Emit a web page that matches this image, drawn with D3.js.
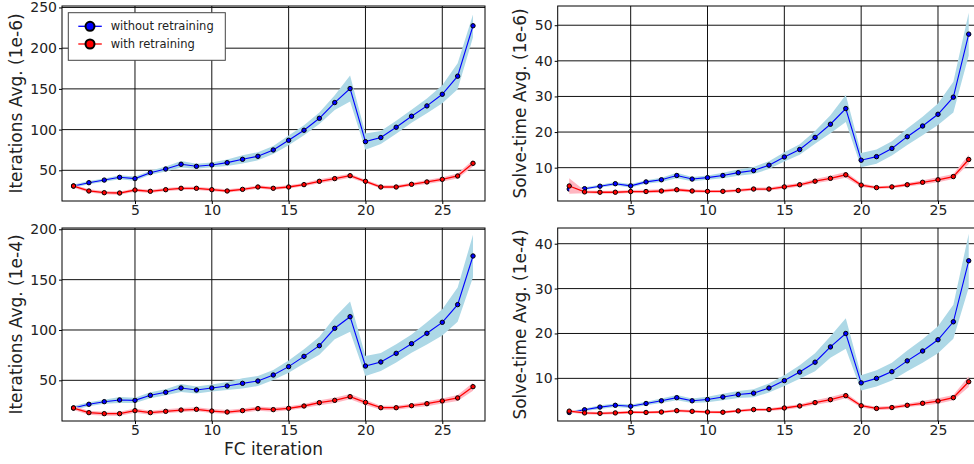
<!DOCTYPE html>
<html>
<head>
<meta charset="utf-8">
<script src="https://cdn.jsdelivr.net/npm/d3@7"></script>
<style>
  body { margin: 0; background: #fff; }
  svg { display: block; font-family: "DejaVu Sans", sans-serif; }
</style>
</head>
<body>
<svg id="chart" width="974" height="464"></svg>
<script>
// FC iterations 1..27
const fcIter = d3.range(1, 28);
const xTicks = [5, 10, 15, 20, 25];

// Iterations avg (1e-6)
const itersE6NoRetrain = [30.7, 34.8, 38, 41.4, 39.8, 47.1, 51.6, 57.4, 54.9, 56.6, 59.4, 63.5, 67.2, 75, 86.9, 99.2, 113.9, 133.2, 150.4, 85.2, 90.2, 102.9, 116.4, 129.1, 143.4, 165.6, 227.5];
const itersE6NoRetrainStd = [2, 2, 2, 2.5, 2.5, 2.5, 3, 4, 3, 3, 4, 5, 5, 5, 6, 6, 7, 9, 16, 10, 8, 8, 8, 9, 11, 16, 14];
const itersE6Retrain = [30.7, 24.6, 22.5, 22.1, 25.8, 24.2, 26.2, 27.9, 27.9, 26.2, 24.6, 26.6, 29.5, 27.9, 29.5, 32.4, 36.5, 39.8, 43.4, 36.5, 29.5, 29.5, 32.8, 35.7, 38.9, 43, 58.6];
const itersE6RetrainStd = [2, 2, 2, 2, 2, 2, 2, 2, 2, 2, 2, 2, 2, 2, 2, 2, 2.5, 2.5, 2.5, 2, 2, 2, 2, 2.5, 2.5, 3, 4];

// Solve-time avg (1e-6)
const timeE6NoRetrain = [4.0, 4.1, 4.8, 5.5, 4.9, 6.0, 6.6, 7.8, 6.8, 7.2, 7.8, 8.6, 9.2, 10.7, 13.0, 15.1, 18.5, 22.2, 26.6, 12.1, 13.1, 15.4, 18.7, 21.7, 25.0, 29.8, 47.5];
const timeE6NoRetrainStd = [0.4, 0.4, 0.4, 0.5, 0.5, 0.5, 0.6, 0.8, 0.6, 0.6, 0.8, 0.9, 1, 1.1, 1.3, 1.5, 1.8, 2.5, 3.8, 2, 2, 2, 2.3, 2.6, 3, 4.3, 6];
const timeE6Retrain = [4.85, 3.2, 3.1, 3.1, 3.3, 3.3, 3.45, 3.8, 3.45, 3.35, 3.35, 3.6, 4.0, 4.0, 4.6, 5.2, 6.2, 7.0, 8.0, 5.1, 4.4, 4.6, 5.2, 5.9, 6.6, 7.5, 12.3];
const timeE6RetrainStd = [2.2, 0.4, 0.4, 0.4, 0.4, 0.5, 0.5, 0.5, 0.4, 0.4, 0.4, 0.4, 0.4, 0.4, 0.5, 0.5, 0.6, 0.7, 0.8, 0.5, 0.4, 0.4, 0.5, 0.6, 0.7, 0.7, 1.3];

// Iterations avg (1e-4)
const itersE4NoRetrain = [22.5, 26.2, 28.8, 30.5, 30.1, 35.1, 38.1, 42.4, 40.4, 42.4, 44.4, 47.0, 49.3, 55.3, 63.6, 73.8, 84.4, 101.7, 113.2, 64.2, 68.2, 76.8, 86.4, 96.7, 107.6, 125.2, 173.5];
const itersE4NoRetrainStd = [2, 2, 2, 3, 2.5, 3, 3, 4, 3.5, 3.5, 4, 5, 5, 5, 6, 7, 9, 11, 15, 10, 9, 9, 9, 11, 13, 17, 21];
const itersE4Retrain = [22.5, 17.9, 16.9, 16.9, 19.9, 17.9, 19.2, 20.5, 21.2, 19.5, 18.5, 19.9, 21.9, 20.9, 22.2, 24.5, 27.8, 30.1, 33.8, 28.1, 22.8, 22.8, 24.8, 26.8, 29.5, 32.5, 43.7];
const itersE4RetrainStd = [2, 2, 2, 2, 2, 2, 2, 2, 2, 2, 2, 2, 2, 2, 2, 2, 2.5, 2.5, 2.5, 2.5, 2, 2, 2, 2.5, 2.5, 3, 4];

// Solve-time avg (1e-4)
const timeE4NoRetrain = [2.4, 3.0, 3.6, 4.0, 3.8, 4.4, 5.0, 5.7, 5.0, 5.3, 5.85, 6.4, 6.7, 7.85, 9.5, 11.4, 13.6, 17.0, 20.0, 9.0, 10.0, 11.5, 13.9, 16.1, 18.6, 22.6, 36.2];
const timeE4NoRetrainStd = [0.3, 0.3, 0.4, 0.4, 0.4, 0.4, 0.5, 0.6, 0.5, 0.6, 0.7, 0.8, 0.9, 1, 1.2, 1.5, 2, 2.4, 3.4, 1.7, 1.8, 2, 2.3, 2.6, 3, 3.8, 6];
const timeE4Retrain = [2.7, 2.3, 2.2, 2.3, 2.45, 2.4, 2.5, 2.8, 2.65, 2.5, 2.45, 2.75, 3.05, 3.05, 3.4, 3.85, 4.6, 5.25, 6.15, 3.9, 3.3, 3.5, 4.0, 4.45, 4.95, 5.7, 9.25];
const timeE4RetrainStd = [0.3, 0.3, 0.3, 0.3, 0.3, 0.3, 0.3, 0.3, 0.3, 0.3, 0.3, 0.3, 0.3, 0.3, 0.4, 0.4, 0.5, 0.6, 0.6, 0.4, 0.4, 0.4, 0.4, 0.5, 0.6, 0.6, 1.2];

const seriesNames = ["without retraining", "with retraining"];

const panels = [
  { left: 62, top: 6, h: 195, yDomain: [12.3, 251.8], yTicks: [50, 100, 150, 200, 250],
    label: "Iterations Avg. (1e-6)", a: itersE6NoRetrain, aStd: itersE6NoRetrainStd, b: itersE6Retrain, bStd: itersE6RetrainStd, legend: true },
  { left: 557.7, top: 6, h: 195, yDomain: [0.64, 55.4], yTicks: [10, 20, 30, 40, 50],
    label: "Solve-time Avg. (1e-6)", a: timeE6NoRetrain, aStd: timeE6NoRetrainStd, b: timeE6Retrain, bStd: timeE6RetrainStd },
  { left: 62, top: 228, h: 193, yDomain: [9.6, 201.3], yTicks: [50, 100, 150, 200],
    label: "Iterations Avg. (1e-4)", a: itersE4NoRetrain, aStd: itersE4NoRetrainStd, b: itersE4Retrain, bStd: itersE4RetrainStd, xlabel: "FC iteration" },
  { left: 557.7, top: 228, h: 193, yDomain: [0.5, 43.5], yTicks: [10, 20, 30, 40],
    label: "Solve-time Avg. (1e-4)", a: timeE4NoRetrain, aStd: timeE4NoRetrainStd, b: timeE4Retrain, bStd: timeE4RetrainStd }
];

const W = 423;
const svg = d3.select("#chart");

panels.forEach((p, pi) => {
  const g = svg.append("g").attr("transform", `translate(${p.left},${p.top})`);
  const x = d3.scaleLinear().domain([0.25, 27.78]).range([0, W]);
  const y = d3.scaleLinear().domain(p.yDomain).range([p.h, 0]);

  g.append("clipPath").attr("id", "clip" + pi)
    .append("rect").attr("width", W).attr("height", p.h);

  // grid
  const grid = g.append("g").attr("stroke", "#111").attr("stroke-width", 1);
  xTicks.forEach(t => grid.append("line")
    .attr("x1", x(t)).attr("x2", x(t)).attr("y1", 0).attr("y2", p.h));
  p.yTicks.forEach(t => grid.append("line")
    .attr("x1", 0).attr("x2", W).attr("y1", y(t)).attr("y2", y(t)));

  const plot = g.append("g").attr("clip-path", `url(#clip${pi})`);

  const area = (m, s) => d3.area()
    .x((d, i) => x(fcIter[i]))
    .y0((d, i) => y(m[i] - s[i]))
    .y1((d, i) => y(m[i] + s[i]))(m);
  const line = d3.line().x((d, i) => x(fcIter[i])).y(d => y(d));

  const drawSeries = (m, s, bandColor, lineColor, lw) => {
    plot.append("path").attr("d", area(m, s)).attr("fill", bandColor).attr("stroke", "none");
    plot.append("path").attr("d", line(m)).attr("fill", "none")
      .attr("stroke", lineColor).attr("stroke-width", lw);
    plot.selectAll(null).data(m).enter().append("circle")
      .attr("cx", (d, i) => x(fcIter[i])).attr("cy", d => y(d)).attr("r", 2.2)
      .attr("fill", lineColor).attr("stroke", "#000").attr("stroke-width", 1);
  };
  drawSeries(p.a, p.aStd, "#add8e6", "#0000ff", 1.1);
  drawSeries(p.b, p.bStd, "#ffb6c1", "#ff0000", 1.3);

  // frame
  g.append("rect").attr("width", W).attr("height", p.h)
    .attr("fill", "none").attr("stroke", "#000").attr("stroke-width", 1);

  // axes
  const xa = g.append("g").attr("transform", `translate(0,${p.h})`)
    .call(d3.axisBottom(x).tickValues(xTicks).tickSize(3).tickPadding(1));
  const ya = g.append("g")
    .call(d3.axisLeft(y).tickValues(p.yTicks).tickSize(3).tickPadding(2));
  [xa, ya].forEach(a => {
    a.select(".domain").remove();
    a.selectAll("text").attr("font-size", 14).attr("font-family", "DejaVu Sans").attr("fill", "#222");
    a.selectAll("line").attr("stroke", "#000");
  });

  const yb = ya.node().getBBox();
  g.append("text")
    .attr("transform", `translate(${yb.x - 8.5},${p.h / 2}) rotate(-90)`)
    .attr("text-anchor", "middle").attr("font-size", 17).attr("fill", "#222")
    .text(p.label);

  if (p.xlabel) {
    g.append("text").attr("x", W / 2).attr("y", p.h + 34)
      .attr("text-anchor", "middle").attr("font-size", 17).attr("fill", "#222")
      .text(p.xlabel);
  }

  if (p.legend) {
    const lg = g.append("g").attr("transform", "translate(6.3,6.7)");
    lg.append("rect").attr("width", 157).attr("height", 47.6)
      .attr("fill", "#fff").attr("stroke", "#444").attr("stroke-width", 1);
    const lcol = ["#0000ff", "#ff0000"];
    seriesNames.forEach((name, i) => {
      const ly = 13.6 + i * 17.7;
      lg.append("line").attr("x1", 10).attr("x2", 33.5).attr("y1", ly).attr("y2", ly)
        .attr("stroke", lcol[i]).attr("stroke-width", 1.3);
      lg.append("circle").attr("cx", 21.7).attr("cy", ly).attr("r", 4.5)
        .attr("fill", lcol[i]).attr("stroke", "#000").attr("stroke-width", 2);
      lg.append("text").attr("x", 42.4).attr("y", ly + 4.2)
        .attr("font-size", 11.5).attr("fill", "#222").text(name);
    });
  }
});
</script>
</body>
</html>
